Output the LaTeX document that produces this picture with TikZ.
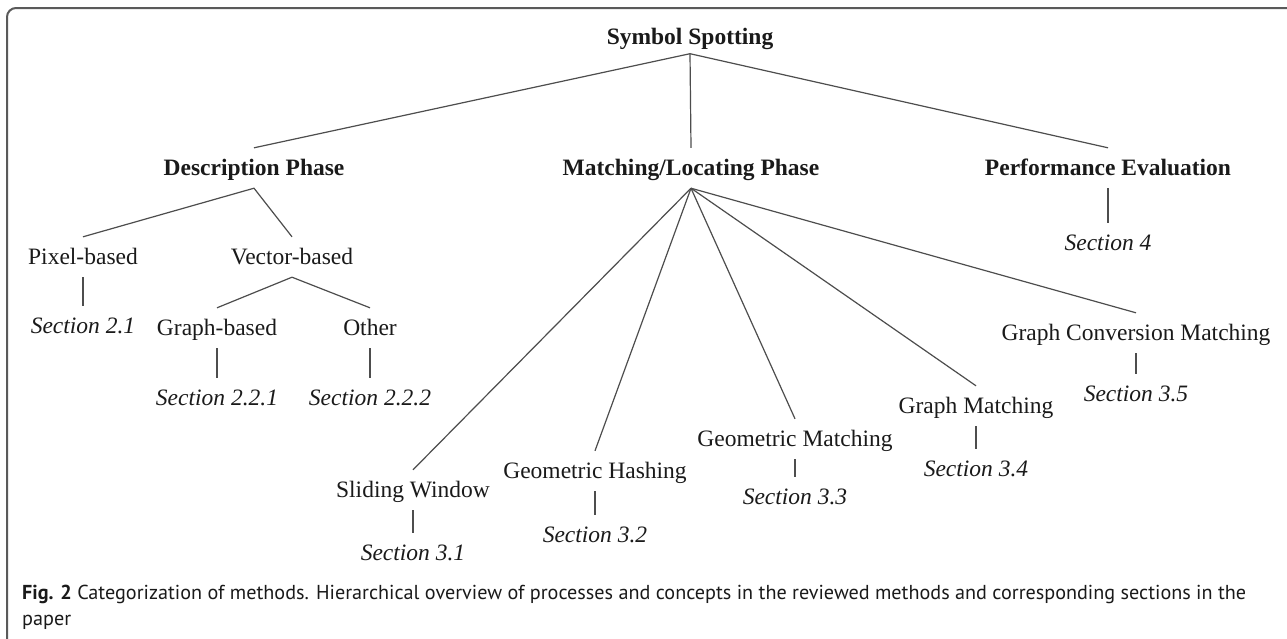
\documentclass[tikz,border=0pt]{standalone}
\usepackage{fontspec}
\setmainfont{Liberation Serif}
\newfontfamily\capfont{PT Sans}
\definecolor{txt}{HTML}{1A1A1A}
\definecolor{ln}{HTML}{4D4D4D}
\definecolor{frm}{HTML}{5A5A5A}
\newlength\capw
\newcommand\captext{\textbf{Fig. 2} Categorization of methods. Hierarchical overview of processes and concepts in the reviewed methods and corresponding sections in the}
\begin{document}
\settowidth\capw{\capfont\fontsize{10}{12}\selectfont\captext}%
\pgfmathsetmacro\capsz{10*1224/\capw}%
\begin{tikzpicture}[x=1pt,y=-1pt,
  lbl/.style={inner sep=0pt, text height=27pt, text depth=13pt, anchor=base,
    font=\fontsize{23.5}{28}\selectfont, text=txt},
  hd/.style={lbl, font=\fontsize{23.5}{28}\selectfont\bfseries},
  sec/.style={lbl, font=\fontsize{23.5}{28}\selectfont\itshape},
  edge/.style={draw=ln, line width=1.2pt},
  framestyle/.style={draw=frm, line width=2pt, rounded corners=9pt},
  captionstyle/.style={inner sep=0pt, anchor=base west, text=txt}]
\useasboundingbox (0,0) rectangle (1287,638);
\fill[white] (0,0) rectangle (1287,638);
\draw[framestyle] (7,640) -- (7,8) -- (1290,8);

% tree nodes
\node[hd, text depth=9pt] (root) at (690,44.5) {Symbol Spotting};
\node[hd] (desc) at (254,175) {Description Phase};
\node[hd] (match) at (691,175) {Matching/Locating Phase};
\node[hd] (perf) at (1108,175) {Performance Evaluation};
\node[sec] (s4) at (1108,250) {Section 4};

\node[lbl] (pixel) at (83,264) {Pixel-based};
\node[lbl] (vector) at (292,264) {Vector-based};
\node[sec] (s21) at (83,333) {Section 2.1};
\node[lbl] (graph) at (217,335) {Graph-based};
\node[lbl] (other) at (370,335) {Other};
\node[sec] (s221) at (217,405) {Section 2.2.1};
\node[sec] (s222) at (370,405) {Section 2.2.2};

\node[lbl] (slide) at (413,497) {Sliding Window};
\node[sec] (s31) at (413,560) {Section 3.1};
\node[lbl] (hash) at (595,478) {Geometric Hashing};
\node[sec] (s32) at (595,542) {Section 3.2};
\node[lbl] (geom) at (795,446) {Geometric Matching};
\node[sec] (s33) at (795,504) {Section 3.3};
\node[lbl] (gm) at (976,413) {Graph Matching};
\node[sec] (s34) at (976,476) {Section 3.4};
\node[lbl] (gcm) at (1136,340) {Graph Conversion Matching};
\node[sec] (s35) at (1136,401) {Section 3.5};

% connectors
\draw[edge] (desc.north) -- (root.south) -- (perf.north);
\draw[edge] (root.south) -- (match.north);
\draw[edge] (perf.south) -- (s4.north);
\draw[edge] (pixel.north) -- (desc.south) -- (vector.north);
\draw[edge] (pixel.south) -- (s21.north);
\draw[edge] (graph.north) -- (vector.south) -- (other.north);
\draw[edge] (graph.south) -- (s221.north);
\draw[edge] (other.south) -- (s222.north);
\foreach \c in {slide,hash,geom,gm,gcm}{\draw[edge] (match.south) -- (\c.north);}
\draw[edge] (slide.south) -- (s31.north);
\draw[edge] (hash.south) -- (s32.north);
\draw[edge] (geom.south) -- (s33.north);
\draw[edge] (gm.south) -- (s34.north);
\draw[edge] (gcm.south) -- (s35.north);

% caption
\node[captionstyle, font=\capfont\fontsize{\capsz}{\capsz}\selectfont] (cap1) at (22,599) {\captext};
\node[captionstyle, font=\capfont\fontsize{\capsz}{\capsz}\selectfont] (cap2) at (22,625) {paper};
\end{tikzpicture}
\end{document}
